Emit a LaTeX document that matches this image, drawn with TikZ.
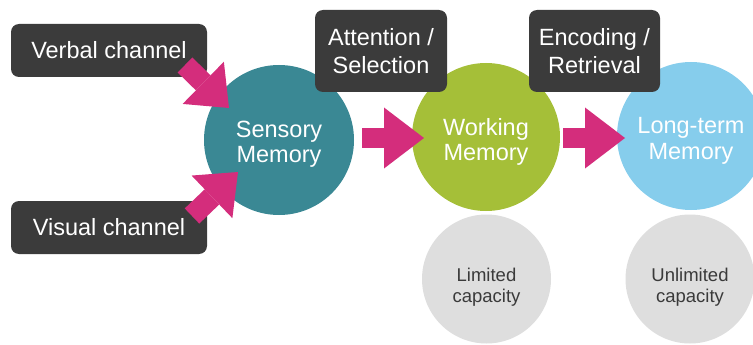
\documentclass[tikz,border=0pt]{standalone}
\usepackage{fontspec}
\setmainfont{Liberation Sans}
\usetikzlibrary{arrows.meta}
\definecolor{cdark}{HTML}{3B3B3B}
\definecolor{cteal}{HTML}{3A8894}
\definecolor{cgreen}{HTML}{A5BF38}
\definecolor{cblue}{HTML}{86CDEC}
\definecolor{cpink}{HTML}{D42D7C}
\definecolor{cgray}{HTML}{DEDEDE}
\definecolor{cgtext}{HTML}{3A3A3A}
\begin{document}
\begin{tikzpicture}[x=1pt,y=-1pt,
  mem/.style={circle, inner sep=0pt},
  memtxt/.style={text=white, align=center, inner sep=0pt,
    font=\fontsize{23.5}{25.5}\selectfont},
  capc/.style={circle, fill=cgray, inner sep=0pt, minimum size=129pt},
  captxt/.style={text=cgtext, align=center, inner sep=0pt,
    font=\fontsize{18.5}{21.5}\selectfont},
  dbox/.style={fill=cdark, rounded corners=8pt, text=white, align=center,
    inner sep=0pt, font=\fontsize{23.5}{28}\selectfont},
  harrow/.style={draw=cpink, line width=20pt,
    -{Triangle[length=40pt,width=61pt,line width=0pt]}},
  darrow/.style={draw=cpink, line width=21pt,
    -{Triangle[length=36pt,width=59pt,line width=0pt]}}]
\useasboundingbox (0,0) rectangle (753,345);
\clip (0,0) rectangle (753,345);
% memory circles
\node[mem, fill=cteal, minimum size=150pt] (sens) at (279,140) {};
\node[mem, fill=cgreen, minimum size=148pt] (work) at (486,137) {};
\node[mem, fill=cblue, minimum size=148pt] (long) at (691,136) {};
\node[memtxt] (senst) at ([yshift=-4pt]sens.center) {Sensory\\Memory};
\node[memtxt] (workt) at ([yshift=-5pt]work.center) {Working\\Memory};
\node[memtxt] (longt) at ([yshift=-5pt]long.center) {Long-term\\Memory};
% capacity circles
\node[capc] (lim) at (486.5,279) {};
\node[capc] (unl) at (690,279) {};
\node[captxt] (limt) at ([yshift=-8pt]lim.center) {Limited\\capacity};
\node[captxt] (unlt) at ([yshift=-8pt]unl.center) {Unlimited\\capacity};
% dark boxes
\node[dbox, minimum width=196pt, minimum height=53pt] (verbal) at (109,50.5) {Verbal channel};
\node[dbox, minimum width=196pt, minimum height=53pt] (visual) at (109,227.5) {Visual channel};
\node[dbox, minimum width=132pt, minimum height=82pt] (att) at (381,51) {Attention /\\Selection};
\node[dbox, minimum width=131pt, minimum height=82pt] (enc) at (594.5,51) {Encoding /\\Retrieval};
% arrows
\coordinate (a1s) at (362,138);
\coordinate (a1e) at (424,138);
\coordinate (a2s) at (563,138);
\coordinate (a2e) at (625,138);
\coordinate (v1s) at (185,65);
\coordinate (v1e) at (229,108);
\coordinate (v2s) at (192,216);
\coordinate (v2e) at (238,172);
\draw[harrow] (a1s) -- (a1e);
\draw[harrow] (a2s) -- (a2e);
\draw[darrow] (v1s) -- (v1e);
\draw[darrow] (v2s) -- (v2e);
\end{tikzpicture}
\end{document}
